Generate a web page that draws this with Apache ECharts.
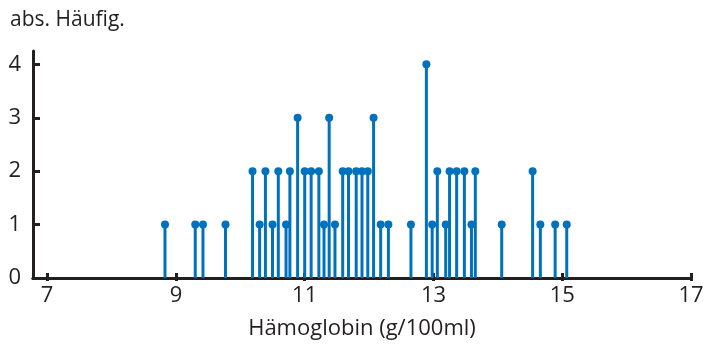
<!DOCTYPE html>
<html>
<head>
<meta charset="utf-8">
<script src="https://cdn.jsdelivr.net/npm/echarts@6/dist/echarts.min.js"></script>
<style>html,body{margin:0;padding:0;background:#fff}#c{width:704px;height:344px}</style>
</head>
<body>
<div id="c"></div>
<script>
const hbValues = [8.83, 9.30, 9.42, 9.77, 10.19, 10.30, 10.39, 10.50, 10.59, 10.71, 10.77, 10.89, 11.00, 11.10, 11.22, 11.30, 11.38, 11.47, 11.59, 11.68, 11.80, 11.89, 11.98, 12.07, 12.18, 12.30, 12.65, 12.89, 12.98, 13.06, 13.19, 13.25, 13.36, 13.48, 13.59, 13.65, 14.06, 14.54, 14.66, 14.89, 15.07];
const counts = [1, 1, 1, 1, 2, 1, 2, 1, 2, 1, 2, 3, 2, 2, 2, 1, 3, 1, 2, 2, 2, 2, 2, 3, 1, 1, 1, 4, 1, 2, 1, 2, 2, 2, 1, 2, 1, 2, 1, 1, 1];
const xTicks = [7, 9, 11, 13, 15, 17];
const yTicks = [0, 1, 2, 3, 4];
const yTitle = 'abs. Häufig.';
const xTitle = 'Hämoglobin (g/100ml)';

const pts = hbValues.map((v, i) => [v, counts[i]]);
const ink = '#231f20';
const blue = '#0071bc';
const font = 'Open Sans';

const chart = echarts.init(document.getElementById('c'));
const xBase = {
  type: 'value', min: 6.78, max: 17, position: 'bottom',
  splitLine: { show: false },
  axisLine: { show: true, lineStyle: { color: ink, width: 3 } }
};
chart.setOption({
  animation: false,
  title: { text: yTitle, left: 5, top: 5, textStyle: { fontFamily: font, fontSize: 21, fontWeight: 'normal', color: ink } },
  grid: { left: 33, right: 13, top: 51, bottom: 66, containLabel: false, outerBoundsMode: 'none' },
  xAxis: [
    Object.assign({}, xBase, {
      name: xTitle, nameLocation: 'middle', nameGap: 40,
      nameTextStyle: { fontFamily: font, fontSize: 22, color: ink },
      axisTick: { show: true, inside: true, length: 5, customValues: xTicks, lineStyle: { color: ink, width: 3 } },
      axisLabel: { customValues: xTicks, margin: 7, fontFamily: font, fontSize: 22, color: ink }
    }),
    Object.assign({}, xBase, {
      axisTick: { show: true, inside: false, length: 3, customValues: xTicks, lineStyle: { color: ink, width: 3 } },
      axisLabel: { show: false }
    })
  ],
  yAxis: {
    type: 'value', min: 0, max: 4.25,
    splitLine: { show: false },
    axisLine: { show: true, lineStyle: { color: ink, width: 3 } },
    axisTick: { show: true, inside: true, length: 7, customValues: yTicks, lineStyle: { color: ink, width: 3 } },
    axisLabel: { customValues: yTicks, margin: 12, fontFamily: font, fontSize: 22, color: ink }
  },
  series: [
    { type: 'bar', xAxisIndex: 0, data: pts, barWidth: 3, itemStyle: { color: blue }, z: 2 },
    { type: 'scatter', xAxisIndex: 0, data: pts, symbolSize: 8, itemStyle: { color: blue, opacity: 1 }, z: 3 }
  ]
});
</script>
</body>
</html>
